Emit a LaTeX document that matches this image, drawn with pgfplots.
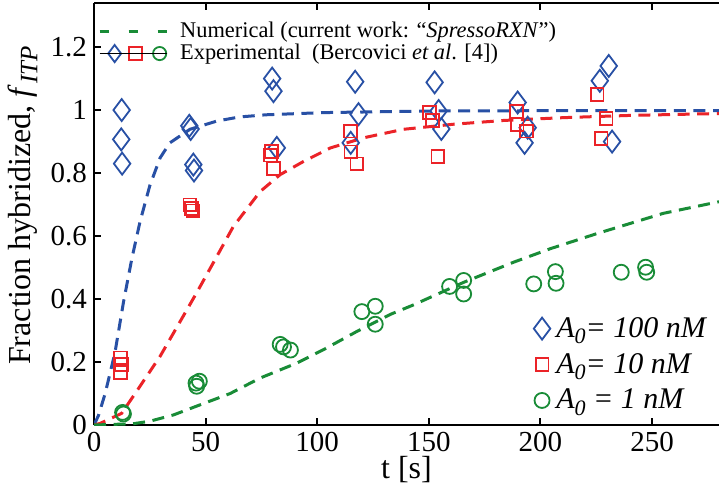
\documentclass[border=0pt]{standalone}
\usepackage{fontspec}
\setmainfont{Liberation Serif}
\usepackage{pgfplots}
\pgfplotsset{compat=1.18}

\definecolor{cblue}{RGB}{40,80,165}
\definecolor{cred}{RGB}{235,35,40}
\definecolor{cgreen}{RGB}{25,140,55}

\begin{document}
\begin{tikzpicture}
\begin{axis}[
  scale only axis,
  width=312.5pt, height=211pt,
  xmin=0, xmax=280, ymin=0, ymax=1.34,
  axis y line*=left,
  xtick={0,50,100,150,200,250},
  ytick={0,0.2,0.4,0.6,0.8,1,1.2},
  tick align=inside,
  major tick length=3.5pt,
  axis line style={line width=1.3pt},
  every tick/.style={black, line width=1pt},
  /pgf/number format/assume math mode=true,
  tick label style={font=\fontsize{14.5}{16}\selectfont},
  xlabel={t [s]},
  ylabel={Fraction hybridized, \textit{f}\kern0.5pt\raisebox{-0.45ex}{\fontsize{12.5}{13}\selectfont\textit{ITP}}},
  label style={font=\fontsize{16}{18}\selectfont},
  xlabel style={at={(axis description cs:0.5,0)}, anchor=center, yshift=-22.5pt},
  ylabel style={at={(axis description cs:-0.1136,0.52)}, anchor=center},
  legend style={draw=none, fill=none, at={(0.703,0.266)}, anchor=north west,
    font=\fontsize{15}{17}\selectfont, inner sep=0pt, row sep=2.5pt,
    /tikz/every odd column/.append style={column sep=1pt}},
  legend cell align=left,
]
\coordinate (ll) at (rel axis cs:0,0);
\coordinate (ur) at (rel axis cs:1,1);

% numerical curves
\addplot[cblue, line width=1.5pt, dash pattern=on 6pt off 3.8pt, forget plot] coordinates {
(0,0) (2,0.03) (5,0.10) (9.4,0.23) (13.2,0.39) (17,0.53) (20.6,0.645) (25,0.76)
(29.6,0.848) (34,0.896) (43,0.939) (55,0.965) (65,0.978) (77,0.985) (103,0.992)
(150,0.997) (200,0.998) (280,0.998)
};
\addplot[cred, line width=1.5pt, dash pattern=on 6pt off 3.8pt, forget plot] coordinates {
(0,0) (2.7,0.005) (12.4,0.037) (20.6,0.123) (29.6,0.218) (37,0.309) (46,0.42)
(55,0.535) (62.4,0.63) (74.4,0.741) (83.4,0.795) (93.9,0.837) (106,0.88)
(120.8,0.912) (138.7,0.939) (161,0.955) (183.5,0.967) (210.5,0.976) (240,0.983) (280,0.989)
};
\addplot[cgreen, line width=1.5pt, dash pattern=on 6pt off 3.8pt, forget plot] coordinates {
(0,0) (17.5,0.004) (25,0.012) (35.6,0.032) (47.5,0.064) (61,0.10) (74.4,0.149)
(91,0.197) (103,0.24) (118,0.298) (133,0.352) (143,0.381) (165.6,0.453) (188,0.517)
(204.5,0.56) (225.4,0.608) (255,0.672) (280,0.709)
};

% experimental points
\addplot[cblue, only marks, mark=diamond, mark size=5.5pt, line width=0.9pt] coordinates {
(12.4,1.00) (12.2,0.907) (12.6,0.83)
(42.7,0.95) (43.3,0.94) (44.5,0.827) (44.8,0.808)
(79.8,1.10) (80.4,1.06) (81.9,0.88)
(117.0,1.09) (118.5,0.987) (115.0,0.896)
(152.6,1.088) (154.4,0.997) (155.6,0.94)
(189.8,1.024) (194.3,0.944) (192.9,0.896)
(230.6,1.14) (226.6,1.093) (232.1,0.90)
};
\addlegendentry{\textit{A}\raisebox{-0.45ex}{\fontsize{11}{11}\selectfont\textit{0}}\textit{= 100 nM}}
\addplot[cred, only marks, mark=square, mark size=3.2pt, line width=0.9pt] coordinates {
(12.0,0.213) (12.3,0.192) (12.0,0.167)
(43.0,0.699) (43.8,0.688) (44.3,0.68)
(79.4,0.869) (79.0,0.857) (80.4,0.814)
(115.0,0.933) (115.1,0.867) (117.8,0.829)
(150.4,0.992) (151.7,0.967) (154.1,0.852)
(189.2,0.995) (189.5,0.955) (193.7,0.933)
(225.4,1.05) (229.4,0.973) (227.2,0.91)
};
\addlegendentry{\textit{A}\raisebox{-0.45ex}{\fontsize{11}{11}\selectfont\textit{0}}\textit{= 10 nM}}
\addplot[cgreen, only marks, mark=o, mark size=3.75pt, line width=0.9pt] coordinates {
(12.8,0.04) (13.2,0.035)
(45.7,0.133) (47.2,0.139) (46.0,0.123)
(83.4,0.256) (84.9,0.248) (88.0,0.238)
(120.0,0.36) (126.0,0.377) (126.0,0.32)
(159.3,0.44) (165.6,0.459) (165.6,0.416)
(197.0,0.448) (206.7,0.487) (207.0,0.45)
(236.2,0.485) (247.1,0.501) (247.6,0.485)
};
\addlegendentry{\textit{A}\raisebox{-0.45ex}{\fontsize{11}{11}\selectfont\textit{0}}\textit{ = 1 nM}}
\end{axis}

% second, hidden axis that only carries the upper legend
\begin{axis}[
  scale only axis,
  width=312.5pt, height=211pt,
  xmin=0, xmax=280, ymin=0, ymax=1.34,
  hide axis,
  legend style={draw=none, fill=none, at={(0.006,0.966)}, anchor=north west,
    font=\fontsize{11.2}{12.5}\selectfont, inner sep=0pt, row sep=-2pt,
    /tikz/every odd column/.append style={column sep=4pt}},
  legend cell align=left,
]
\addlegendimage{legend image code/.code={
  \draw[cgreen, line width=1.5pt, dash pattern=on 4.5pt off 10pt] (0pt,0pt) -- (33.5pt,0pt);}}
\addlegendentry{Numerical (current work: “\textit{SpressoRXN}”)}
\addlegendimage{legend image code/.code={
  \draw[cblue, line width=0.9pt] plot[only marks, mark=diamond, mark size=4.3pt] coordinates {(7.5pt,0pt)};
  \draw[cred, line width=0.9pt] plot[only marks, mark=square, mark size=3.2pt] coordinates {(18pt,0pt)};
  \draw[cgreen, line width=0.9pt] plot[only marks, mark=o, mark size=3.3pt] coordinates {(30pt,0pt)};
  \path (0pt,0pt) -- (33.5pt,0pt);}}
\addlegendentry{Experimental\hspace{0.5em}(Bercovici \textit{et al}. [4])}
\end{axis}

\pgfresetboundingbox
\path[use as bounding box] ([xshift=-47pt,yshift=-36pt]ll) rectangle ([yshift=1.5pt]ur);
\end{tikzpicture}
\end{document}
